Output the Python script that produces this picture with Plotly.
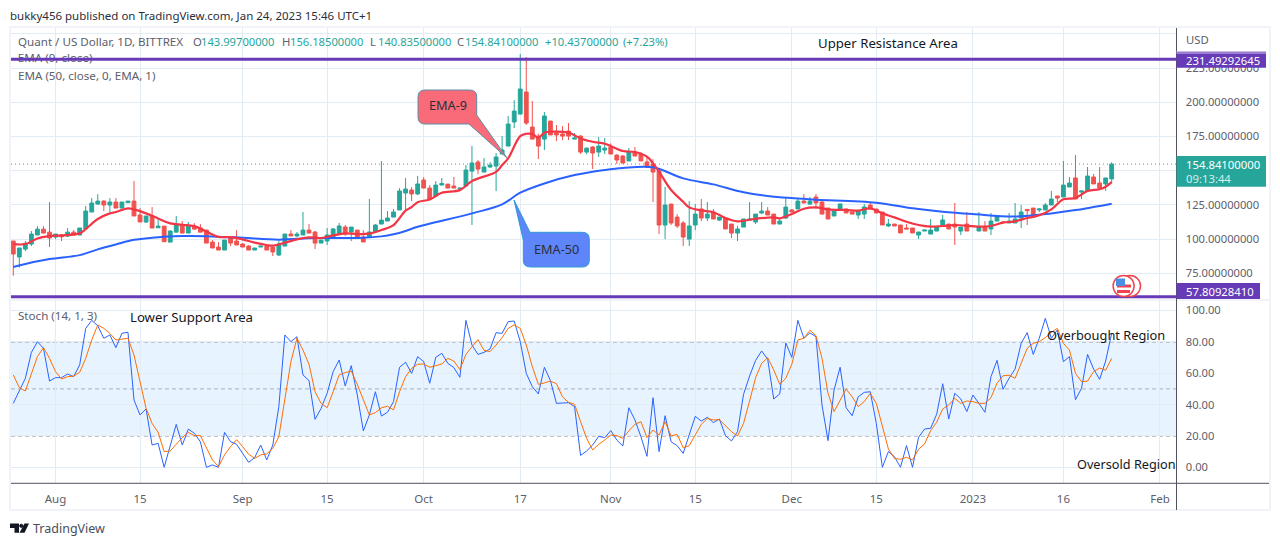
import plotly.graph_objects as go

W, H = 1280, 546

# daily candles, bar 1 = Jul 25 2022
opens = [98.6, 86.9, 92.7, 96.4, 103.0, 107.3, 105.1, 101.5, 103.0, 102.2, 105.1, 103.0, 107.4, 119.8, 125.6, 127.8, 124.9, 127.1, 122.7, 126.6,
         127.8, 117.6, 112.5, 116.9, 108.3, 109.5, 97.8, 105.1, 110.3, 104.4, 109.5, 108.1, 106.6, 97.8, 94.2, 92.0, 100.8, 98.6, 96.4, 94.9,
         92.0, 94.2, 94.9, 94.2, 88.4, 94.9, 103.7, 102.3, 103.0, 106.6, 105.2, 97.1, 98.6, 101.5, 103.7, 108.8, 105.2, 106.6, 101.5, 101.5,
         105.2, 111.0, 113.2, 116.1, 121.3, 133.7, 135.9, 133.0, 143.2, 137.3, 131.5, 139.5, 140.2, 138.8, 136.6, 138.8, 149.7, 156.3, 149.0, 152.7,
         153.4, 162.2, 168.0, 185.6, 191.4, 207.5, 181.9, 175.3, 173.1, 186.3, 177.5, 176.8, 179.0, 173.1, 175.3, 163.6, 167.3, 163.6, 165.1, 167.3,
         161.4, 160.7, 157.1, 163.7, 162.2, 156.4, 154.9, 149.8, 110.3, 125.6, 116.1, 111.8, 100.0, 110.3, 122.0, 115.4, 119.8, 113.9, 115.4, 111.0,
         104.4, 108.8, 113.9, 112.5, 119.1, 120.5, 118.3, 111.0, 115.4, 121.3, 122.0, 127.8, 125.6, 130.8, 127.1, 122.7, 116.9, 122.0, 122.0, 119.8,
         117.6, 118.3, 124.9, 122.0, 119.8, 109.6, 111.0, 110.3, 108.1, 108.1, 103.0, 105.9, 103.7, 105.9, 110.3, 111.0, 111.0, 105.9, 111.0, 109.6,
         105.9, 108.8, 107.4, 113.2, 112.5, 111.8, 111.8, 115.4, 121.7, 122.7, 121.3, 121.3, 124.9, 131.5, 130.8, 138.1, 144.7, 134.4, 135.2, 145.4,
         141.0, 140.3, 143.997]
highs = [98.6, 93.5, 98.6, 105.9, 109.5, 109.5, 127.1, 103.7, 103.7, 108.1, 106.6, 108.1, 124.2, 130.0, 132.9, 128.5, 130.0, 130.0, 127.1, 127.8,
         142.4, 122.7, 116.9, 123.4, 114.7, 109.5, 106.6, 116.9, 113.2, 112.5, 111.7, 111.0, 106.6, 99.3, 97.8, 99.3, 101.5, 106.6, 97.1, 95.7,
         93.5, 94.9, 96.4, 94.2, 98.6, 103.7, 106.6, 105.2, 119.8, 111.0, 105.9, 99.3, 108.1, 108.1, 111.8, 110.3, 108.8, 106.6, 106.6, 129.3,
         111.0, 157.1, 120.5, 122.0, 137.3, 144.7, 138.0, 146.1, 145.4, 139.5, 142.4, 144.6, 140.2, 145.4, 137.3, 154.1, 168.0, 157.8, 159.2, 156.3,
         162.9, 175.3, 190.0, 201.6, 235.3, 233.1, 200.9, 177.0, 192.9, 186.3, 183.4, 182.6, 184.8, 177.5, 176.0, 167.0, 168.0, 174.6, 173.9, 170.0,
         162.0, 161.5, 166.6, 167.3, 163.7, 160.7, 158.5, 150.5, 138.1, 125.6, 118.3, 113.2, 127.8, 125.6, 129.3, 127.1, 122.0, 116.1, 115.4, 111.0,
         109.6, 114.7, 127.1, 118.3, 127.1, 123.4, 118.3, 114.7, 130.0, 122.0, 130.0, 133.0, 130.8, 133.0, 129.3, 122.7, 120.5, 125.7, 122.0, 119.8,
         120.5, 125.7, 126.4, 122.0, 119.8, 114.7, 111.0, 110.3, 111.0, 108.1, 105.2, 106.6, 114.7, 108.8, 117.6, 111.0, 126.4, 108.8, 119.8, 109.8,
         119.8, 113.2, 119.1, 117.5, 112.7, 119.1, 126.4, 124.9, 121.7, 122.7, 122.7, 126.4, 135.2, 131.5, 157.1, 145.4, 161.5, 135.2, 152.7, 147.6,
         152.7, 144.7, 156.185]
lows = [73.2, 79.1, 91.3, 94.9, 103.0, 104.4, 94.2, 100.0, 98.6, 101.5, 103.0, 103.0, 107.4, 119.8, 125.0, 120.5, 119.8, 122.7, 122.7, 126.6,
        116.9, 112.5, 111.7, 108.1, 108.3, 98.1, 97.8, 105.1, 104.4, 104.4, 107.3, 105.1, 97.1, 93.5, 92.0, 92.0, 94.9, 95.7, 94.2, 92.0,
        92.0, 94.2, 92.0, 87.6, 87.6, 94.9, 102.3, 101.5, 103.0, 104.4, 92.8, 97.1, 95.7, 101.5, 103.7, 102.3, 98.6, 101.5, 97.9, 101.5,
        105.2, 111.0, 113.2, 116.1, 121.3, 121.3, 127.8, 132.2, 137.3, 129.3, 131.5, 139.5, 137.3, 137.3, 136.6, 138.8, 110.3, 147.5, 149.0, 152.0,
        135.1, 162.2, 168.0, 181.2, 191.0, 183.4, 173.1, 158.5, 165.1, 176.1, 171.7, 172.4, 172.4, 173.1, 162.2, 162.0, 151.2, 160.0, 162.2, 162.0,
        154.9, 155.6, 157.1, 160.7, 157.1, 152.7, 127.1, 103.7, 100.0, 110.3, 108.1, 94.9, 94.9, 106.6, 113.2, 113.2, 114.7, 113.2, 107.4, 100.8,
        98.6, 108.8, 113.9, 111.0, 118.3, 117.6, 111.0, 111.0, 114.7, 119.8, 122.0, 126.4, 124.9, 122.0, 118.3, 114.7, 116.9, 122.0, 119.1, 118.3,
        114.7, 114.7, 122.0, 119.1, 110.3, 108.8, 109.6, 104.5, 107.4, 104.5, 100.1, 105.9, 103.7, 105.9, 110.3, 107.4, 95.7, 103.0, 105.9, 109.2,
        105.9, 105.9, 103.0, 113.2, 112.2, 111.8, 111.8, 108.1, 110.3, 116.1, 119.8, 121.3, 124.9, 127.1, 130.8, 138.1, 129.3, 129.3, 135.2, 140.3,
        137.0, 135.2, 140.835]
closes = [89.1, 93.5, 96.9, 103.7, 107.3, 104.4, 100.8, 103.7, 101.7, 105.1, 103.0, 108.1, 120.5, 126.4, 127.8, 124.9, 127.1, 122.7, 127.1, 127.8,
          116.9, 112.5, 116.9, 108.1, 109.5, 98.1, 105.9, 110.3, 104.4, 109.5, 107.3, 105.1, 97.1, 93.5, 92.0, 99.3, 97.1, 95.7, 94.2, 92.0,
          93.5, 94.9, 92.0, 90.6, 96.4, 103.7, 102.3, 103.7, 106.6, 104.4, 97.1, 99.3, 103.0, 107.4, 109.6, 103.7, 108.8, 101.5, 97.9, 105.2,
          110.3, 113.9, 115.4, 119.8, 135.2, 136.6, 133.0, 140.3, 137.3, 129.3, 139.5, 140.7, 137.3, 137.3, 137.3, 150.5, 155.6, 151.2, 152.7, 154.1,
          160.0, 165.1, 184.1, 193.6, 209.7, 184.8, 173.1, 168.0, 190.0, 176.1, 176.1, 175.3, 175.3, 173.9, 163.6, 166.5, 162.9, 168.0, 166.5, 162.2,
          157.8, 155.6, 163.7, 160.7, 157.1, 152.7, 149.0, 110.3, 124.9, 111.8, 109.6, 101.5, 109.6, 118.3, 115.4, 118.3, 114.7, 116.1, 107.4, 104.4,
          107.4, 114.7, 114.7, 118.3, 120.5, 117.6, 111.0, 113.2, 123.4, 119.8, 127.8, 126.4, 127.8, 126.4, 118.3, 114.7, 120.5, 125.7, 119.1, 118.3,
          120.5, 123.5, 122.0, 119.1, 110.3, 111.0, 109.6, 104.5, 107.4, 104.5, 105.2, 106.6, 106.6, 108.8, 114.0, 107.4, 108.8, 108.8, 105.9, 109.2,
          108.8, 105.9, 113.2, 116.9, 112.2, 113.2, 114.7, 119.8, 120.8, 116.1, 122.0, 124.9, 129.3, 130.0, 139.5, 141.0, 129.3, 135.2, 146.1, 140.3,
          137.3, 144.7, 154.841]

ema9_bars = [1, 3, 5, 7, 9, 12, 13, 15, 17, 18, 20, 21, 23, 25, 27, 29, 31, 33, 35, 37, 39, 41, 43, 44, 46, 48, 50, 52, 54, 56, 58, 60, 62, 64, 66,
             67, 68, 70, 72, 75, 77, 81, 82, 83, 85, 86, 87, 88, 89, 90, 93, 95, 97, 99, 100, 102, 104, 106, 107, 108, 110, 112, 113, 115, 117, 119,
             121, 124, 127, 128, 130, 132, 134, 136, 139, 141, 143, 145, 147, 149, 151, 153, 155, 157, 161, 163, 165, 167, 169, 171, 173, 175, 177, 179, 181, 182, 183]
ema9_vals = [96.4, 96.4, 100.5, 102.2, 102.7, 104.2, 107.3, 114.7, 118.8, 119.8, 122.5, 121.7, 118.8, 115.1, 111.5, 110.5, 109.5, 105.5, 101.6, 101.5,
             99.8, 97.4, 95.7, 95.2, 97.4, 99.8, 101.3, 100.8, 102.7, 104.2, 103.7, 104.0, 106.6, 110.3, 120.8, 123.4, 127.0, 129.0, 133.9, 135.8, 142.4,
             149.2, 154.1, 159.0, 175.3, 177.0, 176.8, 174.1, 177.8, 178.5, 177.8, 173.6, 171.2, 169.7, 168.0, 164.4, 163.7, 160.3, 155.4, 149.3, 135.9,
             127.3, 123.2, 121.0, 119.6, 115.4, 113.0, 114.9, 115.9, 115.2, 118.3, 122.2, 123.2, 121.8, 121.3, 120.8, 122.5, 118.8, 115.9, 112.7, 110.3,
             109.1, 109.6, 110.3, 109.1, 109.6, 112.0, 113.0, 115.4, 117.4, 121.7, 129.1, 130.0, 135.2, 136.4, 138.3, 141.7]

ema50_bars = [1, 3, 7, 12, 15, 18, 21, 24, 29, 34, 39, 45, 51, 59, 62, 64, 66, 68, 77, 82, 85, 89, 94, 99, 102, 107, 112, 117, 122, 127, 132, 134, 144, 150, 155, 160, 167, 173, 177, 183]
ema50_vals = [79.6, 81.8, 85.4, 88.3, 92.5, 96.1, 99.5, 101.0, 102.2, 102.0, 101.0, 99.6, 100.8, 101.0, 102.0, 103.5, 105.9, 109.0, 118.8, 125.4, 133.9,
              140.7, 146.8, 150.5, 152.0, 152.5, 144.4, 140.0, 134.2, 131.0, 129.5, 128.8, 126.6, 122.5, 120.0, 118.3, 116.5, 118.8, 121.2, 125.9]

stoch_k = [40.8, 49.3, 56.8, 73.3, 80.1, 75.9, 55, 57.2, 57.2, 59.5, 57.8, 65.3, 88.6, 93.7, 90.3, 82.3, 84.4, 76.3, 85.5, 86.1,
           42.9, 33.4, 37.2, 14.2, 15.3, 0, 14.2, 27.4, 14.2, 24.4, 21.7, 16.3, 0, 1.5, 0, 22.3, 16.3, 14.7, 8.9, 3.2,
           6.2, 14.2, 4.7, 14.2, 38.7, 84.4, 80.1, 83.3, 58.9, 55.3, 30.6, 37.6, 47.2, 61, 68.4, 51.9, 64.8, 46.1, 23.2, 33.4,
           48.2, 32.7, 35.1, 41.9, 63.8, 67, 59.9, 70.6, 67.4, 53.6, 70.1, 72.7, 66.3, 63.6, 57.4, 93.7, 78, 72, 73.3, 75.5,
           85.9, 85.4, 92.9, 93.3, 80.1, 59.9, 51.4, 46.8, 63.8, 55.3, 40.8, 40.8, 41.2, 38.7, 7.6, 10.4, 14.2, 19.8, 18.9, 23.4,
           17.4, 13.6, 38, 30.2, 19.5, 7, 44.4, 10, 32.9, 16.3, 13.8, 8.9, 20.6, 32.5, 29.5, 31.9, 28.5, 30.8, 20.2, 16.8,
           22.7, 46.5, 58.2, 68.2, 74.2, 68.9, 43.6, 46.8, 79.3, 70.1, 93.7, 82.3, 85.7, 83.3, 39.7, 17, 49.3, 63.8, 38, 32.9,
           45, 47.8, 48.2, 28, 0, 10, 6.8, 0, 13.8, 0, 19.1, 24.4, 24.9, 33.8, 53.3, 30.8, 47.2, 43.6, 35.5, 46.1,
           40.8, 35.1, 57.8, 68.2, 49.7, 56.8, 62.7, 79.1, 85.9, 72, 82.3, 95, 82.3, 87.6, 67.4, 70.6, 43.1, 50.4, 72, 62.7,
           56.1, 67.8, 85.4]
stoch_d = [58.9, 50.8, 48.7, 59.9, 70.6, 76.3, 69.5, 61, 56.3, 57.8, 58.2, 60.6, 69.5, 81.2, 90.8, 88.6, 85.4, 81.2, 81.8, 82.3,
           71.6, 54.6, 37.6, 28, 22.3, 10, 10.4, 14.7, 18.9, 22.3, 20.2, 20.2, 12.1, 4.7, 0.4, 7.9, 13.2, 17.6, 13.2, 8.3,
           5.7, 7.9, 8.5, 12.1, 19.5, 44, 67.4, 82.3, 74.8, 65.7, 48.2, 40.8, 38, 48.2, 58.9, 60.4, 61.4, 52.9, 42.9, 33.4,
           34.9, 38, 38.9, 36.6, 48.2, 57.8, 63.1, 65.7, 65.9, 63.8, 64.8, 65.9, 69.5, 67.8, 62.3, 72, 76.9, 81.4, 74.6, 73.8,
           78, 82.7, 88.6, 90.8, 88.6, 78, 64.2, 52.9, 53.8, 55, 53.3, 45, 41.4, 40.2, 29.1, 18.5, 11, 14.7, 17.4, 20.6,
           20.2, 18.5, 23.2, 27.4, 29.1, 18.9, 23.8, 20.6, 29.1, 20, 21, 12.5, 13.8, 20.6, 27.4, 31.2, 30.2, 30.4, 26.6, 22.7,
           20, 28, 42.3, 57.2, 66.3, 69.9, 62.1, 52.9, 56.8, 65.7, 81.2, 82.3, 87.4, 84, 69.5, 47.2, 35.5, 42.9, 49.9, 45,
           38.7, 41.9, 47.2, 40.8, 25.9, 11.7, 5.7, 5.1, 6.4, 4.7, 11.5, 14.9, 23.4, 28.7, 37.2, 39.7, 44, 40.8, 42.3, 41.9,
           40.8, 40.8, 44.4, 53.6, 58.4, 58.7, 56.8, 66.3, 75.9, 79.1, 80.1, 82.7, 86.1, 88.6, 79.1, 74.8, 59.9, 54.6, 55, 61,
           63.3, 61.9, 69.5]

bars = list(range(1, len(closes) + 1))

tick_bars = [8, 22, 39, 53, 69, 85, 100, 114, 130, 144, 160, 175, 191]
tick_labels = ["Aug", "15", "Sep", "15", "Oct", "17", "Nov", "15", "Dec", "15", "2023", "16", "Feb"]
price_ticks = [250, 225, 200, 175, 150, 125, 100, 75]
price_labels = ["", "225.00000000", "200.00000000", "175.00000000", "", "125.00000000", "100.00000000", "75.00000000"]
stoch_ticks = [100, 80, 60, 40, 20, 0]
stoch_labels = ["100.00", "80.00", "60.00", "40.00", "20.00", "0.00"]

resistance = 231.49292645
support = 57.80928410
last_close = 154.841

GREEN = "#26a69a"
RED = "#ef5350"
PURPLE = "#673ab7"
GRID = "#e3ecf3"
FRAME = "#f0f3fa"
AXIS = "#50535e"
TEXT = "#5d606b"
FONT = "Noto Sans"
X_RANGE = [0.62, 193.74]


def px(x):
    return x / W


def py(y):
    return 1 - y / H


def label(x, y, text, color=TEXT, size=11.3, anchor="left"):
    # annotations sit 2px inside their anchor
    shift = -2 if anchor == "left" else 0
    fig.add_annotation(xref="paper", yref="paper", x=px(x), y=py(y), text=text, showarrow=False, xshift=shift,
                       xanchor=anchor, yanchor="middle", font=dict(family=FONT, size=size, color=color))


def poly(points, fill, line=None, width=1):
    path = "M " + " L ".join(f"{px(a)} {py(b)}" for a, b in points) + " Z"
    fig.add_shape(type="path", xref="paper", yref="paper", path=path, fillcolor=fill, layer="above",
                  line=dict(color=line or fill, width=width if line else 0))


def rounded(points, fill, line, r=6):
    # points flagged True get a rounded corner
    n = len(points)
    parts = []
    for i, (a, b, soft) in enumerate(points):
        pa, pb, _ = points[i - 1]
        na, nb, _ = points[(i + 1) % n]
        if soft:
            d1 = ((pa - a) ** 2 + (pb - b) ** 2) ** 0.5
            d2 = ((na - a) ** 2 + (nb - b) ** 2) ** 0.5
            start = (a + (pa - a) * r / d1, b + (pb - b) * r / d1)
            end = (a + (na - a) * r / d2, b + (nb - b) * r / d2)
            parts.append(f"{'M' if i == 0 else 'L'} {px(start[0])} {py(start[1])}")
            parts.append(f"Q {px(a)} {py(b)} {px(end[0])} {py(end[1])}")
        else:
            parts.append(f"{'M' if i == 0 else 'L'} {px(a)} {py(b)}")
    fig.add_shape(type="path", xref="paper", yref="paper", path=" ".join(parts) + " Z", fillcolor=fill,
                  layer="above", line=dict(color=line, width=1))


def box(x0, y0, x1, y1, fill, layer="above"):
    fig.add_shape(type="rect", xref="paper", yref="paper", x0=px(x0), x1=px(x1), y0=py(y0), y1=py(y1),
                  fillcolor=fill, line_width=0, layer=layer)


def vline(x, y0, y1, color, width=1):
    fig.add_shape(type="line", xref="paper", yref="paper", x0=px(x), x1=px(x), y0=py(y0), y1=py(y1),
                  line=dict(color=color, width=width), layer="above")


def hline(y, x0, x1, color, width=1):
    fig.add_shape(type="line", xref="paper", yref="paper", x0=px(x0), x1=px(x1), y0=py(y), y1=py(y),
                  line=dict(color=color, width=width), layer="above")


def disc(cx, cy, r, fill, line, width=1.5):
    fig.add_shape(type="circle", xref="paper", yref="paper", x0=px(cx - r), x1=px(cx + r), y0=py(cy + r), y1=py(cy - r),
                  fillcolor=fill, line=dict(color=line, width=width), layer="above")


fig = go.Figure()

# legend text goes in as a trace so the purple level line runs over it, like the original
fig.add_trace(go.Scatter(x=[1.75], y=[231.4], mode="text", text=["EMA (9, close)"], textposition="middle right",
                         textfont=dict(family=FONT, size=11.6, color=TEXT), showlegend=False, hoverinfo="skip"))
fig.add_trace(go.Scatter(x=X_RANGE, y=[last_close, last_close], mode="lines", line=dict(color=GREEN, width=1, dash="1px,3px"),
                         showlegend=False, hoverinfo="skip"))
fig.add_trace(go.Candlestick(x=bars, open=opens, high=highs, low=lows, close=closes, whiskerwidth=0,
                             increasing=dict(line=dict(color=GREEN, width=1), fillcolor=GREEN),
                             decreasing=dict(line=dict(color=RED, width=1), fillcolor=RED),
                             showlegend=False, hoverinfo="skip"))
fig.add_trace(go.Scatter(x=ema50_bars, y=ema50_vals, mode="lines", line=dict(color="#2962ff", width=2, shape="spline"),
                         showlegend=False, hoverinfo="skip"))
fig.add_trace(go.Scatter(x=ema9_bars, y=ema9_vals, mode="lines", line=dict(color="#f23645", width=2.2, shape="spline"),
                         showlegend=False, hoverinfo="skip"))
for level in [resistance, support]:
    fig.add_trace(go.Scatter(x=X_RANGE, y=[level, level], mode="lines", line=dict(color=PURPLE, width=3),
                             showlegend=False, hoverinfo="skip"))

fig.add_trace(go.Scatter(x=bars, y=stoch_k, mode="lines", xaxis="x2", yaxis="y2", line=dict(color="#2962ff", width=1),
                         showlegend=False, hoverinfo="skip"))
fig.add_trace(go.Scatter(x=bars, y=stoch_d, mode="lines", xaxis="x2", yaxis="y2", line=dict(color="#ff6d00", width=1),
                         showlegend=False, hoverinfo="skip"))

# stochastic band and its dashed levels
fig.add_shape(type="rect", xref="x2", yref="y2", x0=X_RANGE[0], x1=X_RANGE[1], y0=20, y1=80, layer="below",
              fillcolor="rgba(33,150,243,0.11)", line_width=0)
for level, color in [(80, "#787b86"), (50, "rgba(120,123,134,0.55)"), (20, "#787b86")]:
    fig.add_shape(type="line", xref="x2", yref="y2", x0=X_RANGE[0], x1=X_RANGE[1], y0=level, y1=level, layer="below",
                  line=dict(color=color, width=1, dash="4px,3px"))

# frame and pane separators
for edge in [(9, 26, 1271, 28), (9, 509, 1271, 511), (9, 26, 11, 511), (1269, 26, 1271, 511), (11, 299, 1269, 301)]:
    box(*edge, FRAME)
vline(1176.5, 28, 510, AXIS)
hline(483.3, 1176.5, 1269, AXIS)
hline(483.3, 11, 1176.5, AXIS)

# price badges on the right axis
box(1176.5, 51, 1266, 67.7, PURPLE)
box(1176.5, 51, 1266, 52.5, "#c9bbe6")
box(1176.5, 52.5, 1266, 54, "#9a80d0")
label(1186, 60, "231.49292645", "white")
box(1176.5, 156, 1266, 186.7, GREEN)
label(1186, 164.5, "154.84100000", "white")
label(1186, 179, "09:13:44", "#d4efec")
box(1176.5, 283, 1260, 299, PURPLE)
label(1186, 291.5, "57.80928410", "white")

# EMA-9 callout
rounded([(418, 90, True), (476.7, 90, True), (476.7, 115, False), (507, 158, False), (469, 124, False), (418, 124, True)],
        "#f96b78", "#5a8fa6", 7)
label(447.5, 105, "EMA-9", "#2a2e39", 12.7, "center")
# EMA-50 callout
rounded([(514, 200, False), (530, 232.3, False), (589.3, 232.3, True), (589.3, 267, True), (523.3, 267, True), (523.3, 240, False)],
        "#5e85fa", "#2e9bd6", 7)
label(556.5, 249, "EMA-50", "#2a2e39", 12.7, "center")

# currency flag badge
disc(1130, 286, 10.5, "white", "#f0434f", 1.5)
disc(1123.6, 286, 10.5, "white", "#f0434f", 1.5)
for stripe in [(1117, 284.5, 1131, 287.5), (1117, 290, 1130, 293)]:
    box(*stripe, "#f0434f")
box(1116, 278.5, 1125, 286, "#4a90e2")

# TradingView logo
poly([(10, 523.5), (19, 523.5), (19, 532.7), (14.5, 532.7), (14.5, 528), (10, 528)], "#131722")
disc(21.3, 525.8, 1.6, "#131722", "#131722", 1)
poly([(24.5, 523.5), (29, 523.5), (24.5, 532.7), (19.5, 532.7)], "#131722")

# header and legend text
label(10, 15, "bukky456 published on TradingView.com, Jan 24, 2023 15:46 UTC+1", "#2a2e39", 11.5)
label(33, 528, "TradingView", "#4a4e5a", 12.5)
label(18, 42, "Quant / US Dollar, 1D, BITTREX", TEXT, 11.6)
for x, letter in [(193, "O"), (281.5, "H"), (370, "L"), (456.5, "C")]:
    label(x, 42, letter)
for x, value in [(201, "143.99700000"), (290, "156.18500000"), (378, "140.83500000"), (464.5, "154.84100000"),
                 (545, "+10.43700000"), (623, "(+7.23%)")]:
    label(x, 42, value, GREEN, 11.2)
label(18, 76, "EMA (50, close, 0, EMA, 1)", TEXT, 11.6)
label(18, 315, "Stoch (14, 1, 3)", TEXT, 11.6)
label(1186, 40, "USD")
label(818, 43.5, "Upper Resistance Area", "#131722", 13.2)
label(130, 316.5, "Lower Support Area", "#131722", 13.2)
label(1047, 334.5, "Overbought Region", "#131722", 12.8)
label(1077, 464, "Oversold Region", "#131722", 12.7)

axis_font = dict(family=FONT, size=11.2, color=TEXT)
fig.update_layout(
    width=W, height=H, autosize=False, margin=dict(l=0, r=0, t=0, b=0),
    paper_bgcolor="white", plot_bgcolor="white", showlegend=False, hovermode=False, boxgap=0.1,
    xaxis=dict(domain=[px(11), px(1176.5)], range=X_RANGE, anchor="y", tickvals=tick_bars, showticklabels=False,
               showgrid=True, gridcolor=GRID, gridwidth=1, zeroline=False, rangeslider=dict(visible=False), ticks=""),
    yaxis=dict(domain=[py(300), py(28)], range=[55.5, 254.3], anchor="x", side="right", tickvals=price_ticks, ticktext=price_labels,
               showgrid=True, gridcolor=GRID, gridwidth=1, zeroline=False, tickfont=axis_font,
               ticks="outside", ticklen=6, tickcolor="rgba(0,0,0,0)"),
    xaxis2=dict(domain=[px(11), px(1176.5)], range=X_RANGE, anchor="y2", tickvals=tick_bars, ticktext=tick_labels,
                showgrid=True, gridcolor=GRID, gridwidth=1, zeroline=False, tickfont=dict(family=FONT, size=11.5, color=TEXT),
                ticks="outside", ticklen=5, tickcolor="rgba(0,0,0,0)", tickangle=0),
    yaxis2=dict(domain=[py(483.3), py(300)], range=[-10.2, 106.7], anchor="x2", side="right", tickvals=stoch_ticks, ticktext=stoch_labels,
                showgrid=True, gridcolor=GRID, gridwidth=1, zeroline=False, tickfont=axis_font,
                ticks="outside", ticklen=6, tickcolor="rgba(0,0,0,0)"),
)

fig.write_html("out.html", config={"displayModeBar": False}, post_script="document.body.style.margin='0';")
